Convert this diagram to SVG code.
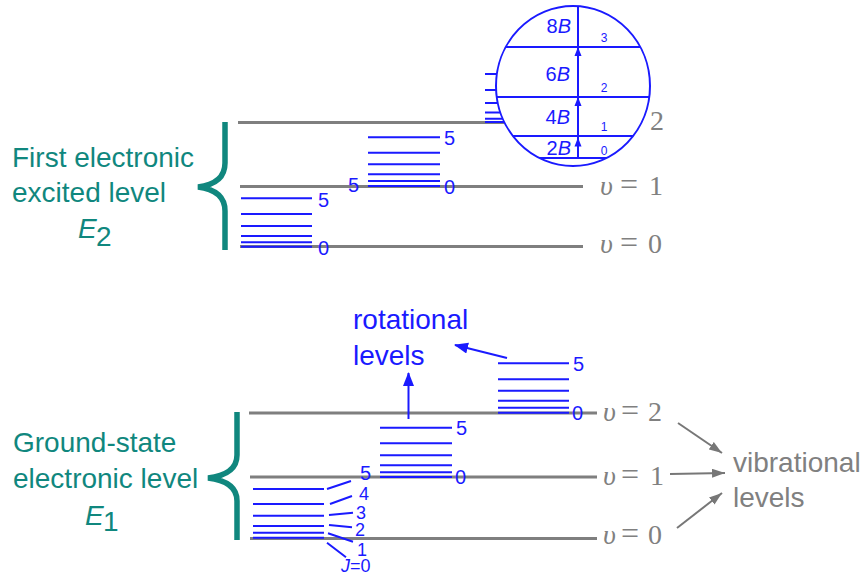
<svg xmlns="http://www.w3.org/2000/svg" width="864" height="575" viewBox="0 0 864 575">
<style>
.sans{font-family:"Liberation Sans",Arial,sans-serif}
.serif{font-family:"Liberation Serif","Times New Roman",serif}
.teal{fill:#10877e;font-size:28px}
.vib{stroke:#7f7f7f;stroke-width:3;fill:none}
.rot{stroke:#1a1aff;stroke-width:2;fill:none}
.bl{fill:#1a1aff}
.num{font-size:20px}
.jn{font-size:18px}
.sm{font-size:12px}
.vl{fill:#808080;font-size:28px}
.brace{fill:none;stroke:#10877e;stroke-width:5.5}
.garrow{stroke:#777;stroke-width:2;fill:none}
.barrow{stroke:#1a1aff;stroke-width:2;fill:none}
</style>
<defs>
<marker id="bh" markerUnits="userSpaceOnUse" markerWidth="14" markerHeight="12" refX="13" refY="5.5" orient="auto"><path d="M0,0 L14,5.5 L0,11 z" fill="#1a1aff"/></marker>
<marker id="gh" markerUnits="userSpaceOnUse" markerWidth="14" markerHeight="10" refX="13" refY="4.5" orient="auto"><path d="M0,0 L13,4.5 L0,9 z" fill="#777"/></marker>
<clipPath id="cc"><ellipse cx="573" cy="86" rx="77" ry="80"/></clipPath>
</defs>

<g id="excited-label">
<text class="sans teal" x="12" y="167">First electronic</text>
<text class="sans teal" x="12" y="202">excited level</text>
<text class="sans teal" x="78" y="238" font-size="24" font-style="italic">E</text>
<text class="sans teal" x="96" y="246" font-size="17">2</text>
<path class="brace" d="M225,122 L225,163 C225,178 214,185 198,187 C214,189 225,196 225,211 L225,250"/>
</g>

<g id="ground-label">
<text class="sans teal" x="13" y="452">Ground-state</text>
<text class="sans teal" x="13" y="488">electronic level</text>
<text class="sans teal" x="85" y="525" font-size="24" font-style="italic">E</text>
<text class="sans teal" x="103" y="531" font-size="17">1</text>
<path class="brace" d="M237,412 L237,455 C237,470 225,476 208,478 C225,480 237,486 237,501 L237,540"/>
</g>

<g id="vibrational-levels">
<line class="vib" x1="238" y1="122.5" x2="504" y2="122.5"/>
<line class="vib" x1="240" y1="186.5" x2="583" y2="186.5"/>
<line class="vib" x1="240" y1="246.5" x2="583" y2="246.5"/>
<line class="vib" x1="249" y1="413" x2="597" y2="413"/>
<line class="vib" x1="250" y1="477" x2="597" y2="477"/>
<line class="vib" x1="250" y1="538.5" x2="597" y2="538.5"/>
<text class="serif vl" x="650" y="130">2</text>
<text class="serif vl"><tspan x="600" y="195" font-style="italic">υ</tspan><tspan x="620" y="195" font-size="32">=</tspan><tspan x="649" y="195">1</tspan></text>
<text class="serif vl"><tspan x="600" y="253" font-style="italic">υ</tspan><tspan x="620" y="253" font-size="32">=</tspan><tspan x="648" y="253">0</tspan></text>
<text class="serif vl"><tspan x="603" y="421" font-style="italic">υ</tspan><tspan x="621" y="421" font-size="32">=</tspan><tspan x="648" y="421">2</tspan></text>
<text class="serif vl"><tspan x="603" y="485" font-style="italic">υ</tspan><tspan x="621" y="485" font-size="32">=</tspan><tspan x="650" y="485">1</tspan></text>
<text class="serif vl"><tspan x="603" y="544" font-style="italic">υ</tspan><tspan x="621" y="544" font-size="32">=</tspan><tspan x="648" y="544">0</tspan></text>
</g>

<g id="rot-upper-v0">
<path class="rot" d="M241,198.3H312M241,214H312M241,226H312M241,236H312M241,242.3H312M241,246.7H312"/>
<text class="sans bl num" x="318" y="206.5">5</text>
<text class="sans bl num" x="318" y="254.5">0</text>
</g>

<g id="rot-upper-v1">
<path class="rot" d="M368,137.3H440M368,152.7H440M368,164.3H440M368,174.3H440M368,181H440M368,186H440"/>
<text class="sans bl num" x="444" y="144.5">5</text>
<text class="sans bl num" x="444" y="193.5">0</text>
<text class="sans bl num" x="348" y="191.5">5</text>
</g>

<g id="rot-upper-v2-ticks">
<path class="rot" d="M485,74H497M485,90H496M485,103H498M485,112.4H500.5M485,118.8H503M485,122H504"/>
</g>

<g id="inset-circle">
<g clip-path="url(#cc)">
<path class="rot" d="M490,47H660M490,97H660M490,136H660M490,158H660M578,158V0"/>
</g>
<ellipse class="rot" cx="573" cy="86" rx="77" ry="80"/>
<polygon class="bl" points="578,47 574.5,56 581.5,56"/>
<polygon class="bl" points="578,97 574.5,106 581.5,106"/>
<polygon class="bl" points="578,137.5 574.5,146.5 581.5,146.5"/>
<text class="sans bl" x="571" y="33" font-size="20" text-anchor="end">8<tspan font-style="italic">B</tspan></text>
<text class="sans bl" x="570" y="81" font-size="20" text-anchor="end">6<tspan font-style="italic">B</tspan></text>
<text class="sans bl" x="570" y="124" font-size="20" text-anchor="end">4<tspan font-style="italic">B</tspan></text>
<text class="sans bl" x="571" y="155" font-size="20" text-anchor="end">2<tspan font-style="italic">B</tspan></text>
<text class="sans bl sm" x="604" y="42" text-anchor="middle">3</text>
<text class="sans bl sm" x="604" y="92" text-anchor="middle">2</text>
<text class="sans bl sm" x="604" y="131" text-anchor="middle">1</text>
<text class="sans bl sm" x="604" y="155" text-anchor="middle">0</text>
</g>

<g id="rot-lower-v0">
<path class="rot" d="M253,489H324M253,504H324M253,515.7H324M253,526H324M253,532.7H324M253,537.7H324"/>
<text class="sans bl num" x="360" y="480">5</text>
<text class="sans bl jn" x="359" y="500">4</text>
<text class="sans bl jn" x="356" y="518.5">3</text>
<text class="sans bl jn" x="355" y="535.5">2</text>
<text class="sans bl jn" x="357" y="555.5">1</text>
<text class="sans bl jn" x="341" y="572"><tspan font-style="italic">J</tspan>=0</text>
</g>

<g id="rot-lower-v1">
<path class="rot" d="M380,427.7H452M380,443.3H452M380,455.3H452M380,465.3H452M380,472.3H452M380,477H452"/>
<text class="sans bl num" x="456" y="435">5</text>
<text class="sans bl num" x="455" y="484">0</text>
</g>

<g id="rot-lower-v2">
<path class="rot" d="M498,363.3H569M498,379.3H569M498,390.7H569M498,400.7H569M498,407.7H569M498,412.7H569"/>
<text class="sans bl num" x="573" y="370.5">5</text>
<text class="sans bl num" x="572" y="420">0</text>
</g>

<g id="rotational-label">
<text class="sans bl" x="353" y="329" font-size="28">rotational</text>
<text class="sans bl" x="353" y="365" font-size="28">levels</text>
</g>

<g id="vibrational-label">
<text class="sans" x="733" y="472" font-size="28" fill="#808080">vibrational</text>
<text class="sans" x="733" y="507" font-size="28" fill="#808080">levels</text>
</g>

<g id="connectors">
<path class="rot" stroke-width="1.2" d="M327,489L351,481M330,504L352,496M329,515L353,512.7M329,525L352,527.3M328,533.3L353,541.7M327,542.7L346,557.3"/>
<line class="barrow" x1="408.5" y1="419" x2="408.5" y2="373" marker-end="url(#bh)"/>
<line class="barrow" x1="507" y1="358" x2="455" y2="345" marker-end="url(#bh)"/>
<line class="garrow" x1="678" y1="423" x2="722" y2="453" marker-end="url(#gh)"/>
<line class="garrow" x1="670" y1="474" x2="725" y2="473" marker-end="url(#gh)"/>
<line class="garrow" x1="677" y1="528" x2="722" y2="493" marker-end="url(#gh)"/>
</g>
</svg>
